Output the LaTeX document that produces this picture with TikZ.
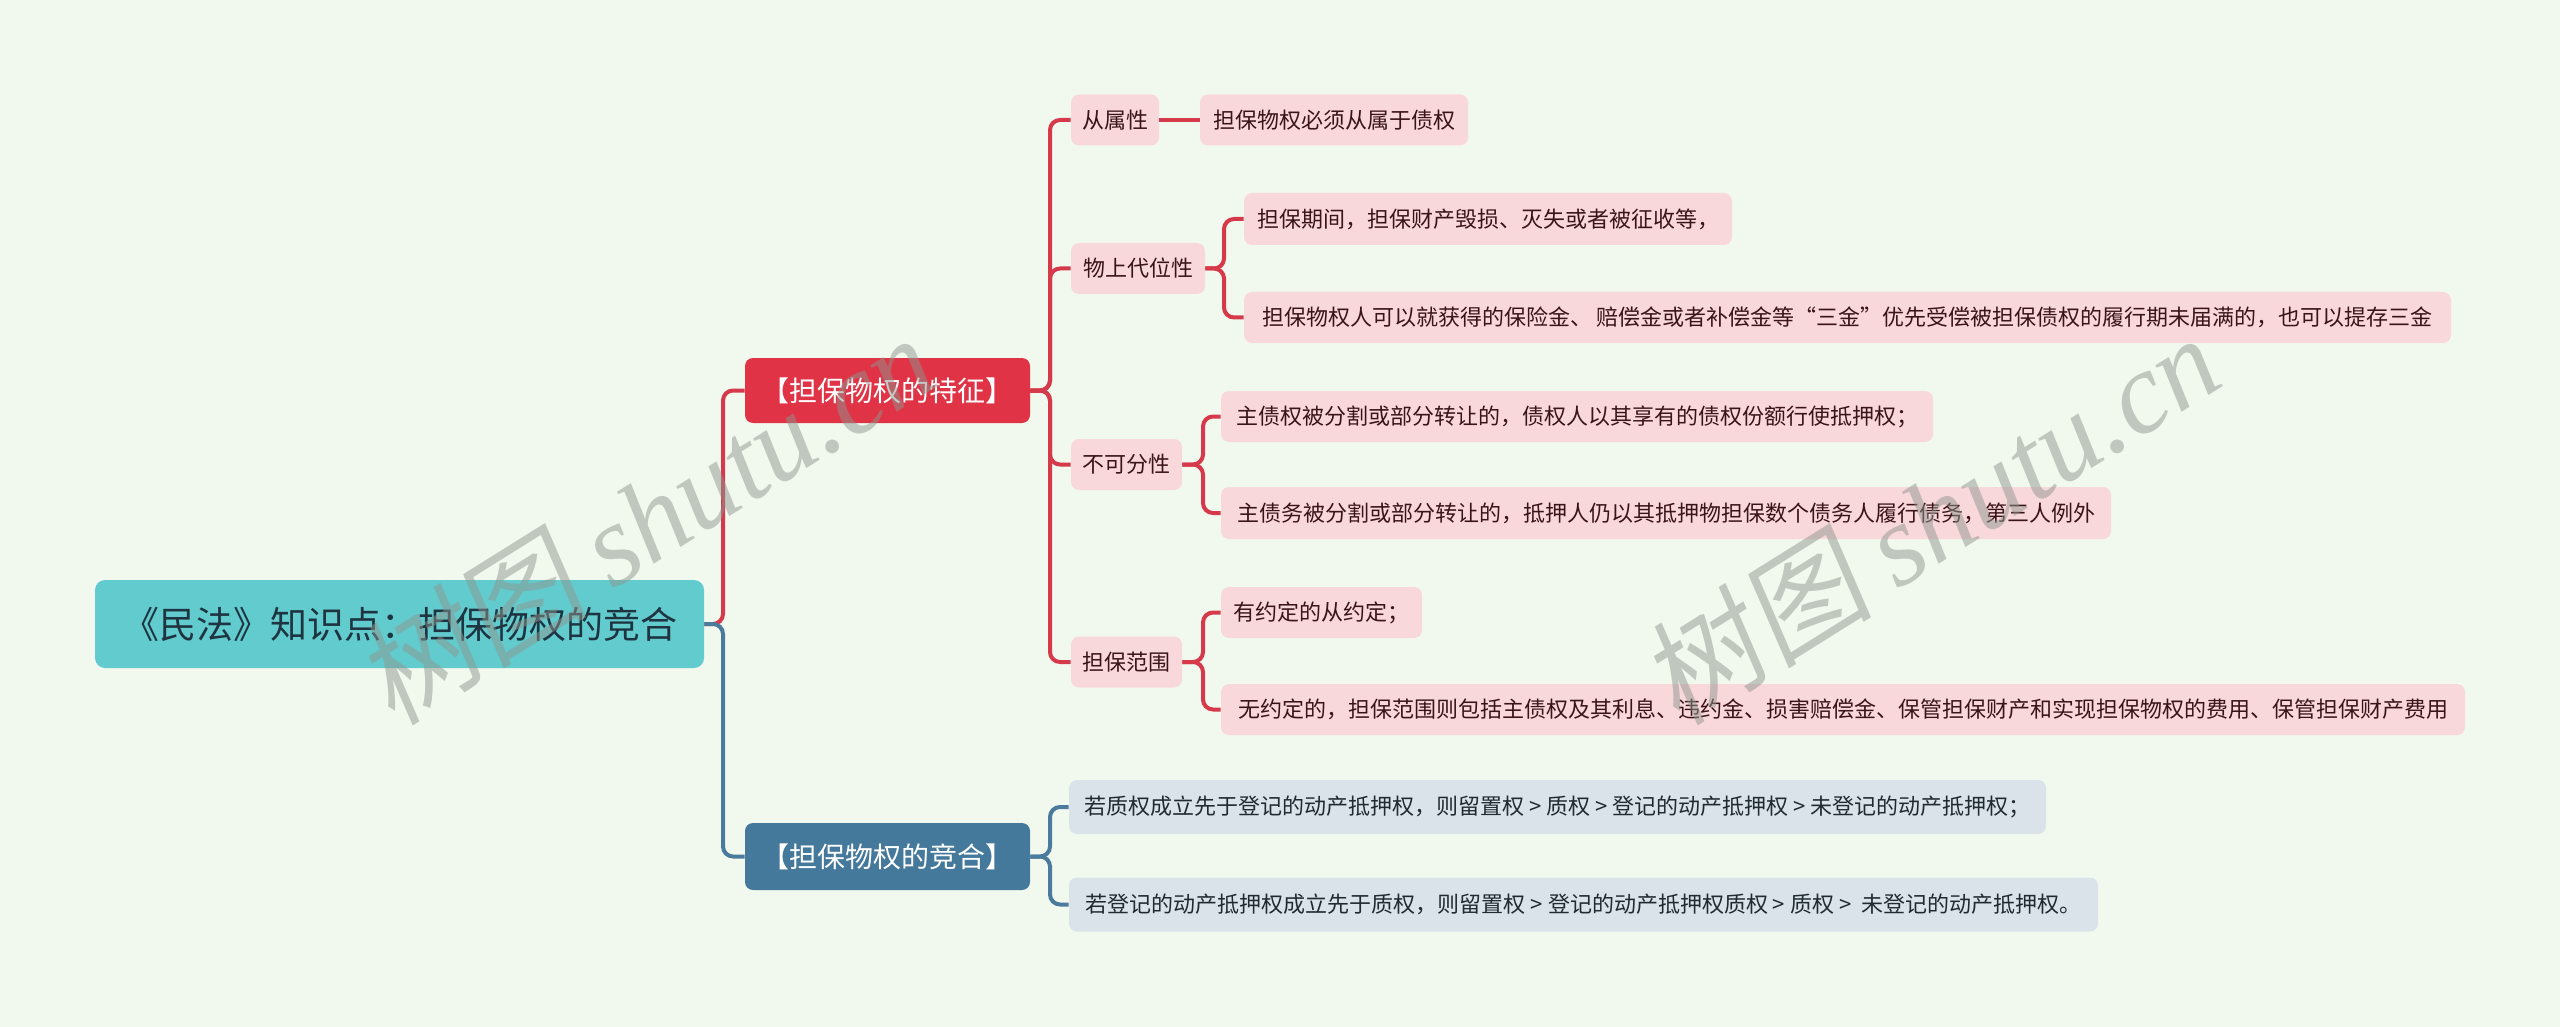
\documentclass[tikz,border=0pt]{standalone}
\usepackage{fontspec}
\setmainfont{Noto Sans CJK SC}
\newfontfamily\wmserif{Liberation Serif}
\newfontfamily\wmcjk[FakeSlant=0.15]{Noto Sans CJK SC}
\definecolor{bgc}{HTML}{F1F9EF}
\definecolor{rootc}{HTML}{62CBCE}
\definecolor{redc}{HTML}{E03346}
\definecolor{redl}{HTML}{D63A4A}
\definecolor{bluec}{HTML}{45799C}
\definecolor{bluel}{HTML}{4A7A9C}
\definecolor{pinkc}{HTML}{F9D8DC}
\definecolor{lbluec}{HTML}{DAE3E9}
\definecolor{darkt}{HTML}{3A1418}
\definecolor{roott}{HTML}{1E3440}
\definecolor{leaft}{HTML}{1F2A33}
\definecolor{wmc}{HTML}{8E968E}
\begin{document}
\begin{tikzpicture}[x=0.5pt,y=-0.5pt,
  basebox/.style={rounded corners=4pt, inner sep=0pt, anchor=center, minimum height=25.5pt},
  rootbox/.style={basebox, fill=rootc, text=roott, font=\fontsize{18.5}{20}\selectfont, minimum height=44pt, rounded corners=5pt},
  redmain/.style={basebox, fill=redc, text=white, font=\fontsize{14}{16}\selectfont, minimum height=32.5pt},
  bluemain/.style={basebox, fill=bluec, text=white, font=\fontsize{14}{16}\selectfont, minimum height=33.5pt},
  pinkbox/.style={basebox, fill=pinkc, text=darkt, font=\fontsize{11}{13}\selectfont},
  bluebox/.style={basebox, fill=lbluec, text=leaft, font=\fontsize{11}{13}\selectfont, minimum height=27pt},
  redline/.style={draw=redl, line width=2pt, rounded corners=5pt},
  blueline/.style={draw=bluel, line width=2pt, rounded corners=5pt},
  wm/.style={text=wmc, opacity=0.5, rotate=32, font=\fontsize{58}{60}\selectfont}
]
\useasboundingbox[fill=bgc] (0,0) rectangle (2560,1027);

% trunk coordinates
\coordinate (t0) at (723,0);
\coordinate (t1) at (1050,0);
\coordinate (t2) at (1224,0);
\coordinate (t3) at (1203,0);

% nodes
\node[rootbox, minimum width=304.5pt] (root) at (399.5,624) {《民法》知识点：担保物权的竞合};
\node[redmain, minimum width=142.5pt] (m1) at (887.5,390.5) {【担保物权的特征】};
\node[bluemain, minimum width=142.5pt] (m2) at (887.5,856.5) {【担保物权的竞合】};

\node[pinkbox, minimum width=44pt] (a) at (1115,120) {从属性};
\node[pinkbox, minimum width=67pt] (b) at (1138,268.5) {物上代位性};
\node[pinkbox, minimum width=55.5pt] (c) at (1126.5,464.5) {不可分性};
\node[pinkbox, minimum width=55.5pt] (d) at (1126.5,662) {担保范围};

\node[pinkbox, minimum width=134pt] (a1) at (1334,120) {担保物权必须从属于债权};
\node[pinkbox, minimum width=244pt, minimum height=26pt] (b1) at (1488,219) {担保期间，担保财产毁损、灭失或者被征收等，};
\node[pinkbox, minimum width=603.5pt] (b2) at (1847.5,317.5) {担保物权人可以就获得的保险金、 赔偿金或者补偿金等“三金”优先受偿被担保债权的履行期未届满的，也可以提存三金};
\node[pinkbox, minimum width=356pt] (c1) at (1577,416.5) {主债权被分割或部分转让的，债权人以其享有的债权份额行使抵押权；};
\node[pinkbox, minimum width=445pt, minimum height=26pt] (c2) at (1666,513) {主债务被分割或部分转让的，抵押人仍以其抵押物担保数个债务人履行债务，第三人例外};
\node[pinkbox, minimum width=100.5pt] (d1) at (1321.5,612.5) {有约定的从约定；};
\node[pinkbox, minimum width=622pt] (d2) at (1843,709.5) {无约定的，担保范围则包括主债权及其利息、违约金、损害赔偿金、保管担保财产和实现担保物权的费用、保管担保财产费用};

\node[bluebox, minimum width=488.5pt] (e1) at (1557.5,807) {若质权成立先于登记的动产抵押权，则留置权 > 质权 > 登记的动产抵押权 > 未登记的动产抵押权；};
\node[bluebox, minimum width=514.5pt] (e2) at (1583.5,904.5) {若登记的动产抵押权成立先于质权，则留置权 > 登记的动产抵押权质权 > 质权 >\ \ 未登记的动产抵押权。};

% connectors
\draw[redline] (root.east) -- (root.east -| t0) |- (m1.west);
\draw[blueline] (root.east) -- (root.east -| t0) |- (m2.west);

\foreach \n in {a,b,c,d}
  \draw[redline] (m1.east) -- (m1.east -| t1) |- (\n.west);
\draw[redline] (a.east) -- (a1.west);
\foreach \n in {b1,b2}
  \draw[redline] (b.east) -- (b.east -| t2) |- (\n.west);
\foreach \n in {c1,c2}
  \draw[redline] (c.east) -- (c.east -| t3) |- (\n.west);
\foreach \n in {d1,d2}
  \draw[redline] (d.east) -- (d.east -| t3) |- (\n.west);
\foreach \n in {e1,e2}
  \draw[blueline] (m2.east) -- (m2.east -| t1) |- (\n.west);

% watermarks
\node[wm] (wm1) at (645,518) {{\wmcjk 树图} {\wmserif\itshape shutu.cn}};
\node[wm] (wm2) at (1930,518) {{\wmcjk 树图} {\wmserif\itshape shutu.cn}};
\end{tikzpicture}
\end{document}
